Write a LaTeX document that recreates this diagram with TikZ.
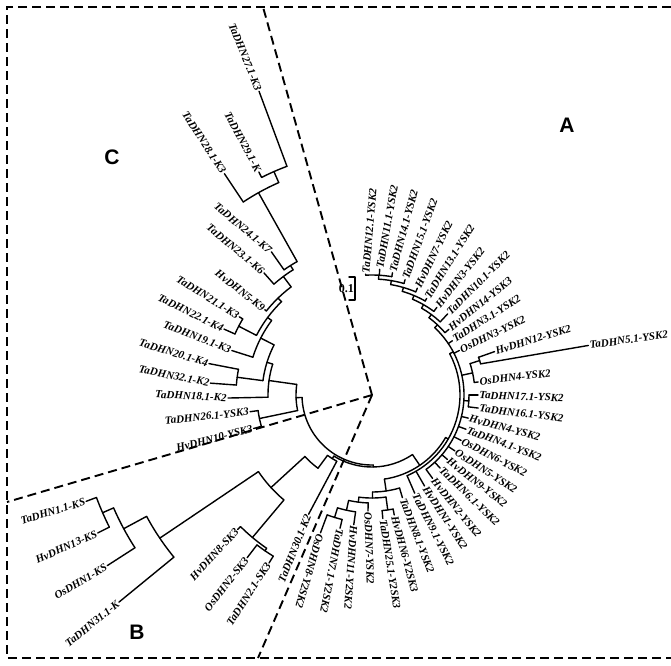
\documentclass[tikz,border=0pt]{standalone}
\usepackage{fontspec}
\setmainfont{Liberation Serif}
\newfontfamily\grpfont{Liberation Sans}
\begin{document}
\begin{tikzpicture}[x=1pt,y=-1pt,
  br/.style={line width=1.4pt, line cap=round, line join=round},
  dsh/.style={line width=1.9pt, dash pattern=on 9pt off 5pt},
  lab/.style={font=\fontsize{11}{12}\selectfont\bfseries\itshape, inner sep=1.2pt},
  grp/.style={font=\grpfont\fontsize{21}{24}\selectfont\bfseries, inner sep=0pt}]
\useasboundingbox (0,0) rectangle (671,665);
\coordinate (C) at (372,395);
\newcommand\parc[3]{\draw[br] ([shift={(#1:#3)}]C) arc[start angle=#1,end angle=#2,radius=#3];}
\newcommand\prad[3]{\draw[br] ([shift={(#1:#2)}]C) -- ([shift={(#1:#3)}]C);}
\newcommand\leafW[6]{\coordinate (t#4) at ([shift={(#1:#3)}]C);
  \node[lab, anchor=west, rotate=#5] (#4) at (t#4) {#6};
  \draw[br] ([shift={(#1:#2)}]C) -- (t#4);}
\newcommand\leafE[6]{\coordinate (t#4) at ([shift={(#1:#3)}]C);
  \node[lab, anchor=east, rotate=#5] (#4) at (t#4) {#6};
  \draw[br] ([shift={(#1:#2)}]C) -- (t#4);}

% frame and clade separators
\draw[dsh] (671,7) -- (7,7) -- (7,658) -- (671,658);
\coordinate (dT) at (263,7);
\coordinate (dL) at (7,502);
\coordinate (dB) at (258,658);
\draw[dsh] (C) -- (dT);
\draw[dsh] (C) -- (dL);
\draw[dsh] (C) -- (dB);

% root
\parc{178}{89}{70}
% ---------- clade C ----------
\prad{178}{70}{76}
\parc{168.2}{188}{76}
\prad{168.2}{76}{115}
\parc{164.2}{172.2}{115}
\leafE{164.2}{115}{123}{c1}{14}{HvDHN10-YSK3}
\leafE{172.2}{115}{123}{c2}{6}{TaDHN26.1-YSK3}
\prad{188}{76}{104}
\parc{178.8}{197.3}{104}
\leafE{178.8}{104}{144}{c3}{-3}{TaDHN18.1-K2}
\prad{197.3}{104}{110}
\parc{187.5}{207.1}{110}
\prad{187.5}{110}{136}
\parc{184.2}{190.9}{136}
\leafE{184.2}{136}{162}{c4}{-11}{TaDHN32.1-K2}
\leafE{190.9}{136}{166}{c5}{-17}{TaDHN20.1-K4}
\prad{207.1}{110}{125}
\parc{197.6}{216.6}{125}
\leafE{197.6}{125}{147}{c6}{-21}{TaDHN19.1-K3}
\prad{216.6}{125}{130}
\parc{207.3}{225.9}{130}
\prad{207.3}{130}{150}
\parc{204}{210.5}{150}
\leafE{204}{150}{162}{c7}{-26}{TaDHN22.1-K4}
\leafE{210.5}{150}{154}{c8}{-32}{TaDHN21.1-K3}
\prad{225.9}{130}{135}
\parc{218.5}{233.2}{135}
\leafE{218.5}{135}{137}{c9}{-38}{HvDHN5-K9}
\prad{233.2}{135}{148}
\parc{228.5}{237.8}{148}
\leafE{228.5}{148}{163}{c10}{-40}{TaDHN23.1-K6}
\prad{237.8}{148}{153}
\parc{234.9}{240.7}{153}
\leafE{234.9}{153}{175}{c11}{-40}{TaDHN24.1-K7}
\prad{240.7}{153}{232}
\parc{236.3}{246.3}{232}
\leafE{236.3}{232}{266}{c12}{-57}{TaDHN28.1-K3}
\prad{246.3}{232}{244}
\parc{243.1}{249.6}{244}
\leafE{243.1}{244}{250}{c13}{-62}{TaDHN29.1-K}
\leafE{249.6}{244}{324}{c14}{-68}{TaDHN27.1-K3}

% ---------- B + A ----------
\prad{89}{70}{72}
\parc{122}{55.8}{72}
% clade B
\prad{122}{72}{75}
\parc{118}{126.4}{75}
\leafE{118}{75}{135}{b1}{68}{TaDHN30.1-K2}
\prad{126.4}{75}{91}
\parc{126.4}{137.5}{91}
\prad{137.5}{91}{137}
\parc{130}{146}{137}
\prad{130}{137}{186}
\parc{124.5}{135}{186}
\leafE{135}{186}{190}{b4}{47}{HvDHN8-SK3}
\prad{124.5}{186}{189}
\parc{121.5}{127.5}{189}
\leafE{121.5}{189}{197}{b2}{57}{TaDHN2.1-SK3}
\leafE{127.5}{189}{205}{b3}{52}{OsDHN2-SK3}
\prad{146}{137}{256}
\parc{140.7}{151.7}{256}
\leafE{140.7}{256}{327}{b5}{39}{TaDHN31.1-K}
\prad{151.7}{256}{282}
\parc{147.2}{156.4}{282}
\leafE{147.2}{282}{315}{b6}{31}{OsDHN1-KS}
\prad{156.4}{282}{294}
\parc{153.3}{159.6}{294}
\leafE{153.3}{294}{307}{b7}{24}{HvDHN13-KS}
\leafE{159.6}{294}{305}{b8}{17}{TaDHN1.1-KS}

% clade A
\prad{55.8}{72}{85}
\parc{30}{81.6}{85}
\prad{81.6}{85}{97}
\parc{73.5}{89.7}{97}
\leafW{73.5}{97}{107}{a26}{-69}{TaDHN8.1-YSK2}
\prad{89.7}{97}{103}
\parc{82.2}{97.3}{103}
\prad{82.2}{103}{116}
\parc{79.5}{85}{116}
\leafW{79.5}{116}{122}{a27}{-75}{HvDHN6-Y2SK3}
\leafW{85}{116}{124}{a28}{-81}{TaDHN25.1-Y2SK3}
\prad{97.3}{103}{108}
\parc{92}{102.5}{108}
\leafW{92}{108}{116}{a29}{-88}{OsDHN7-YSK2}
\prad{102.5}{108}{118}
\parc{98}{107}{118}
\leafW{98}{118}{131}{a30}{-94}{HvDHN11-Y2SK2}
\prad{107}{118}{128}
\parc{103.5}{110.5}{128}
\leafW{103.5}{128}{137}{a31}{-101}{TaDHN7.1-Y2SK2}
\leafW{110.5}{128}{147}{a32}{-106}{OsDHN8-Y2SK2}
% main A body
\prad{30}{85}{88}
\parc{-28}{66.5}{88}
\prad{-28}{88}{92}
\parc{-47}{54}{92}
\leafW{66.5}{88}{107}{a25}{-63}{TaDHN9.1-YSK2}
\leafW{60}{88}{105}{a24}{-57}{HvDHN1-YSK2}
\leafW{54}{92}{103}{a23}{-51}{HvDHN2-YSK2}
\leafW{47}{92}{100}{a22}{-44}{TaDHN6.1-YSK2}
\leafW{40.5}{92}{99}{a21}{-38}{HvDHN9-YSK2}
\leafW{34}{92}{100}{a20}{-33}{OsDHN5-YSK2}
\leafW{27}{92}{100}{a19}{-27}{OsDHN6-YSK2}
\leafW{20}{92}{100}{a18}{-21}{TaDHN4.1-YSK2}
\leafW{13.5}{92}{99}{a17}{-15}{HvDHN4-YSK2}
\prad{3.5}{92}{97}
\parc{0}{7}{97}
\leafW{0}{97}{106}{a15}{-2}{TaDHN17.1-YSK2}
\leafW{7}{97}{107}{a16}{-7}{TaDHN16.1-YSK2}
\prad{-12.4}{92}{103}
\parc{-17.75}{-7}{103}
\leafW{-7}{103}{107}{a14}{7}{OsDHN4-YSK2}
\prad{-17.75}{103}{113}
\parc{-19.5}{-16}{113}
\leafW{-19.5}{113}{130}{a12}{17}{HvDHN12-YSK2}
\coordinate (ta13) at ([shift={(-12.9:222)}]C);
\node[lab, anchor=west, rotate=8] (a13) at (ta13) {TaDHN5.1-YSK2};
\draw[br] ([shift={(-16:113)}]C) -- (ta13);
\leafW{-27}{92}{98}{a11}{26}{OsDHN3-YSK2}
\leafW{-34}{92}{97}{a10}{33}{TaDHN3.1-YSK2}
% spiral to the top
\prad{-47}{92}{96}
\parc{-53.6}{-40.5}{96}
\leafW{-40.5}{96}{101}{a9}{39}{HvDHN14-YSK3}
\prad{-53.6}{96}{100}
\parc{-60.3}{-47}{100}
\leafW{-47}{100}{111}{a8}{45}{TaDHN10.1-YSK2}
\prad{-60.3}{100}{104}
\parc{-67.1}{-53.5}{104}
\leafW{-53.5}{104}{109}{a7}{52}{HvDHN3-YSK2}
\prad{-67.1}{104}{108}
\parc{-73.7}{-60.5}{108}
\leafW{-60.5}{108}{111}{a6}{58}{TaDHN13.1-YSK2}
\prad{-73.7}{108}{112}
\parc{-80.4}{-67}{112}
\leafW{-67}{112}{116}{a5}{64}{HvDHN7-YSK2}
\prad{-80.4}{112}{116}
\parc{-86.75}{-74}{116}
\leafW{-74}{116}{120}{a4}{70}{TaDHN15.1-YSK2}
\prad{-86.75}{116}{120}
\parc{-93}{-80.5}{120}
\leafW{-93}{120}{121}{a1}{85}{TaDHN12.1-YSK2}
\leafW{-86.5}{120}{126}{a2}{80}{TaDHN11.1-YSK2}
\leafW{-80.5}{120}{124}{a3}{75}{TaDHN14.1-YSK2}

% scale bar
\coordinate (s1) at (349,277);
\coordinate (s2) at (349,300);
\draw[br] (s1) -- ++(6,0) coordinate (s1r) -- (s1r |- s2) -- (s2);
\node[font=\fontsize{12}{14}\selectfont\bfseries, anchor=east, inner sep=1pt] (scale) at (355,289) {0.1};

% clade letters
\node[grp] (gA) at (567,125) {A};
\node[grp] (gB) at (137,632) {B};
\node[grp] (gC) at (112,157) {C};
\end{tikzpicture}
\end{document}
